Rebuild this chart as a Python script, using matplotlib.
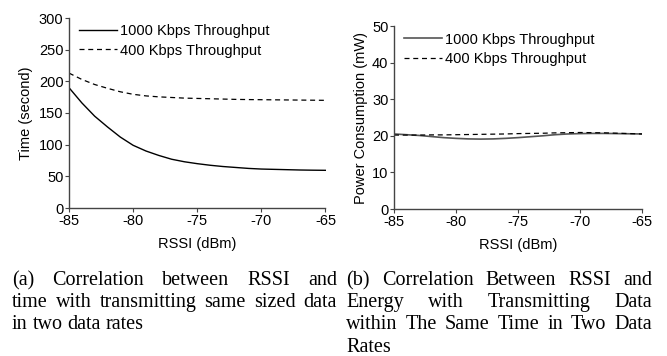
import matplotlib
matplotlib.use("Agg")
import matplotlib.pyplot as plt

# data
rssi = [-85, -84, -83, -82, -81, -80, -79, -78, -77, -76, -75,
        -74, -73, -72, -71, -70, -69, -68, -67, -66, -65]
time_1000 = [190, 166, 145, 128, 112, 99, 90, 83, 77, 73, 70,
             67.5, 65.5, 64, 62.5, 61.5, 61, 60.5, 60, 59.7, 59.5]
time_400 = [213, 203, 195, 189, 183.5, 179.5, 177, 175.5, 174.5, 173.5, 173,
            172.5, 172, 171.5, 171.2, 171, 170.8, 170.6, 170.4, 170.2, 170]
power_1000 = [20.5, 20.3, 20.1, 19.8, 19.5, 19.3, 19.15, 19.1, 19.15, 19.3, 19.5,
              19.75, 20.0, 20.3, 20.5, 20.6, 20.65, 20.65, 20.6, 20.55, 20.5]
power_400 = [20.2, 20.2, 20.2, 20.25, 20.25, 20.3, 20.35, 20.4, 20.45, 20.5, 20.6,
             20.65, 20.7, 20.8, 20.85, 20.9, 20.85, 20.8, 20.7, 20.6, 20.5]
series_labels = ["1000 Kbps Throughput", "400 Kbps Throughput"]

caption_a = [["(a)", "Correlation", "between", "RSSI", "and"],
             ["time", "with", "transmitting", "same", "sized", "data"],
             ["in", "two", "data", "rates"]]
caption_b = [["(b)", "Correlation", "Between", "RSSI", "and"],
             ["Energy", "with", "Transmitting", "Data"],
             ["within", "The", "Same", "Time", "in", "Two", "Data"],
             ["Rates"]]

W, H = 667, 356
plt.rcParams['font.family'] = ['Liberation Sans', 'DejaVu Sans']
plt.rcParams['font.size'] = 10.5

fig = plt.figure(figsize=(W / 100, H / 100), dpi=100)
ax1 = fig.add_axes([69 / W, 1 - 208 / H, 256.5 / W, 190 / H])
ax2 = fig.add_axes([394 / W, 1 - 209 / H, 248 / W, 183 / H])

spine_col = '#444444'
dash = (0, (4, 3))

#%% left: time
ax1.plot(rssi, time_1000, color='black', lw=1, label=series_labels[0])
ax1.plot(rssi, time_400, color='black', lw=0.9, ls=dash, label=series_labels[1])
ax1.set_xlim(-85, -65)
ax1.set_ylim(0, 300)
ax1.set_xticks(range(-85, -64, 5))
ax1.set_yticks(range(0, 301, 50))
ax1.set_ylabel('Time (second)', labelpad=4)
ax1.set_xlabel('RSSI (dBm)', labelpad=7)

#%% right: power
ax2.plot(rssi, power_1000, color='#555555', lw=1.2, label=series_labels[0])
ax2.plot(rssi, power_400, color='black', lw=0.9, ls=dash, label=series_labels[1])
ax2.set_xlim(-85, -65)
ax2.set_ylim(0, 50)
ax2.set_xticks(range(-85, -64, 5))
ax2.set_yticks(range(0, 51, 10))
ax2.set_ylabel('Power Consumption (mW)', labelpad=3)
ax2.set_xlabel('RSSI (dBm)', labelpad=7)

for ax in (ax1, ax2):
    for s in ('top', 'right'):
        ax.spines[s].set_visible(False)
    for s in ('left', 'bottom'):
        ax.spines[s].set_color(spine_col)
        ax.spines[s].set_linewidth(1)
    ax.tick_params(direction='out', length=3, width=0.8, color=spine_col, pad=1)
    ax.set_xticklabels([str(v) for v in ax.get_xticks().astype(int)])
    ax.legend(loc='upper left', bbox_to_anchor=(0.0, 1.02), frameon=False,
              handlelength=2.6, handletextpad=0.2, labelspacing=0.35,
              borderpad=0.2, fontsize=10.5)

#%% captions, justified by hand
renderer = fig.canvas.get_renderer()

def justify(lines, x0, x1, baselines):
    for i, words in enumerate(lines):
        y = 1 - baselines[i] / H
        texts = [fig.text(0, y, w, family=['Liberation Serif'], fontsize=14.5,
                          va='baseline', ha='left') for w in words]
        widths = [t.get_window_extent(renderer).width for t in texts]
        if i == len(lines) - 1 or len(words) == 1:
            gap = 5
        else:
            gap = (x1 - x0 - sum(widths)) / (len(words) - 1)
        x = x0
        for t, w in zip(texts, widths):
            t.set_x(x / W)
            x += w + gap

justify(caption_a, 12, 337, [285, 307, 329])
justify(caption_b, 346, 652, [285, 307, 329, 352])

fig.savefig('out.png', dpi=100)
